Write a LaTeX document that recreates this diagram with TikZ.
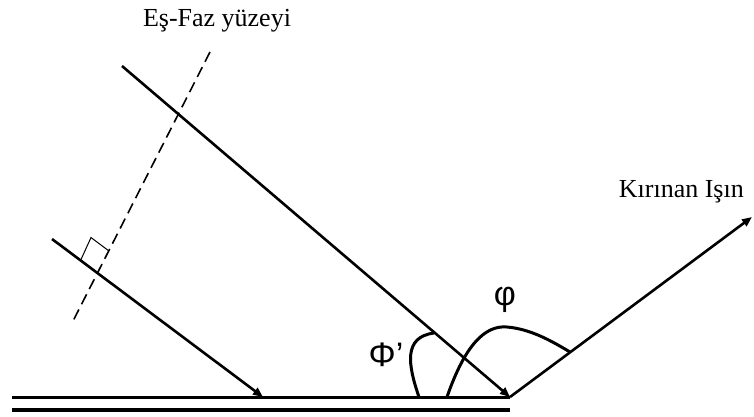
\documentclass[tikz,border=0pt]{standalone}
\usepackage{fontspec}
\setmainfont{Liberation Serif}
\newfontfamily\greekfont{Liberation Sans}
\usetikzlibrary{arrows.meta}
\tikzset{
  ray/.style={line width=2.6pt},
  tipped/.style={ray,-{Triangle[length=10pt,width=8pt]}},
  surface/.style={line width=3pt},
  surfacethick/.style={line width=4pt},
  phase/.style={line width=1.6pt,dash pattern=on 11pt off 6pt},
  rightangle/.style={line width=1pt},
  anglecurve/.style={line width=3pt},
  lbl/.style={font=\fontsize{26}{26}\selectfont,inner sep=0pt},
  glbl/.style={font=\greekfont\fontsize{34}{34}\selectfont,inner sep=0pt}
}
\begin{document}
\begin{tikzpicture}[x=1pt,y=-1pt]
\useasboundingbox (0,0) rectangle (754,416);
% coordinates
\coordinate (s1l) at (12,397.5);
\coordinate (s1r) at (510,397.5);
\coordinate (s2l) at (12,409.5);
\coordinate (s2r) at (510,409.5);
\coordinate (r1s) at (122,66);
\coordinate (hit) at (510,397);
\coordinate (r2s) at (52,239);
\coordinate (r2e) at (263,397);
\coordinate (dend) at (752,217);
\coordinate (pt) at (210,52);
\coordinate (pb) at (72,323);
\coordinate (ra1) at (98,273);
\coordinate (ra2) at (81,259.5);
\coordinate (ra3) at (91,237.5);
\coordinate (ra4) at (109,251);
% surface
\draw[surface] (s1l) -- (s1r);
\draw[surfacethick] (s2l) -- (s2r);
% rays
\draw[tipped] (r1s) -- (hit);
\draw[tipped] (r2s) -- (r2e);
\draw[tipped] (hit) -- (dend);
% phase front
\draw[phase] (pt) -- (pb);
\draw[rightangle] (ra2) -- (ra3) -- (ra4);
% angle curves
\coordinate (c1s) at (419,397);
\coordinate (c1e) at (434,333);
\draw[anglecurve] (c1s) .. controls (408,365) and (403,337) .. (c1e);
\coordinate (c2s) at (447,397);
\coordinate (c2m) at (507,327);
\coordinate (c2e) at (570,352);
\draw[anglecurve] (c2s) .. controls (465,345) and (485,325) .. (c2m) .. controls (530,329) and (550,340) .. (c2e);
% labels
\node[lbl,anchor=base] (t1) at (217,26) {Eş-Faz yüzeyi};
\node[lbl,anchor=base east] (t2) at (744,197) {Kırınan Işın};
\node[glbl] (phi) at (505,300) {φ};
\node[glbl] (phip) at (386,355) {Φ’};
\end{tikzpicture}
\end{document}
